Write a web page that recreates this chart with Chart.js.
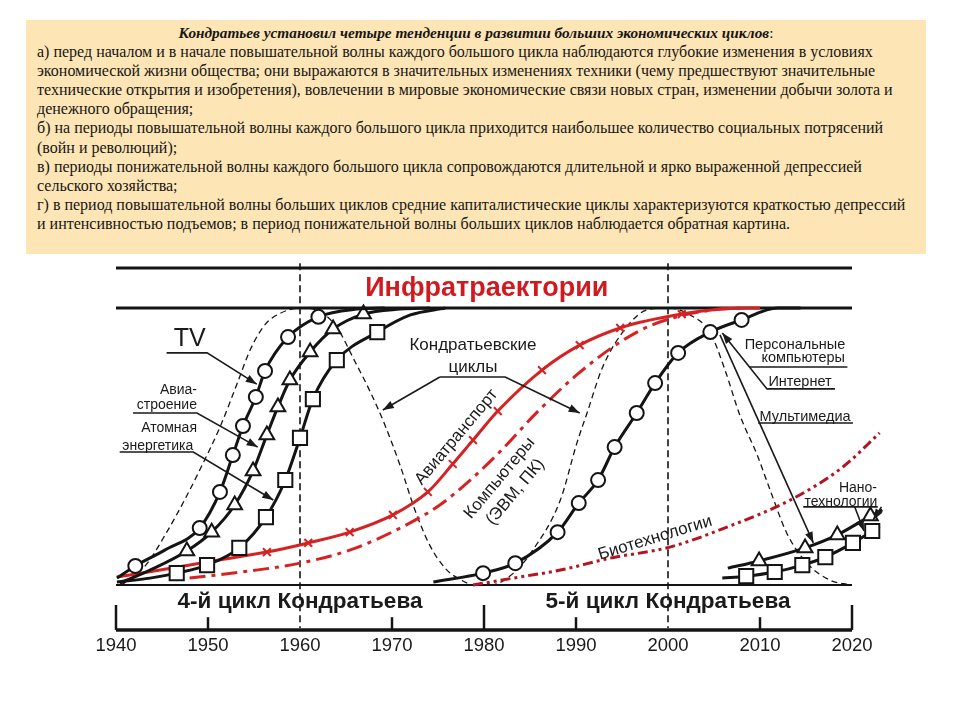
<!DOCTYPE html>
<html>
<head>
<meta charset="utf-8">
<title>Инфратраектории</title>
<script src="https://cdn.jsdelivr.net/npm/chart.js@4.4.1/dist/chart.umd.min.js"></script>
<style>
    body { margin: 0; background: #fff; }
    #wrap { position: relative; width: 960px; height: 720px; }
    #note {
        position: absolute; left: 26px; top: 20px; width: 900px; height: 234px;
        background: #fde5b5; z-index: 2; box-sizing: border-box; padding: 3px 0 0 11px;
        font-family: 'Liberation Serif', serif; font-size: 16px; color: #161616;
    }
    #note div { white-space: nowrap; line-height: 19.1px; }
    #note .title { text-align: center; font-weight: bold; font-style: italic; font-size: 15.3px; padding-right: 11px; }
    canvas { position: absolute; left: 0; top: 0; }
</style>
</head>
<body>
<div id="wrap">
    <div id="note">
        <div class="title">Кондратьев установил четыре тенденции в развитии больших экономических циклов<span style="font-weight:normal;font-style:normal">:</span></div>
        <div>а) перед началом и в начале повышательной волны каждого большого цикла наблюдаются глубокие изменения в условиях</div>
        <div>экономической жизни общества; они выражаются в значительных изменениях техники (чему предшествуют значительные</div>
        <div>технические открытия и изобретения), вовлечении в мировые экономические связи новых стран, изменении добычи золота и</div>
        <div>денежного обращения;</div>
        <div>б) на периоды повышательной волны каждого большого цикла приходится наибольшее количество социальных потрясений</div>
        <div>(войн и революций);</div>
        <div>в) периоды понижательной волны каждого большого цикла сопровождаются длительной и ярко выраженной депрессией</div>
        <div>сельского хозяйства;</div>
        <div>г) в период повышательной волны больших циклов средние капиталистические циклы характеризуются краткостью депрессий</div>
        <div>и интенсивностью подъемов; в период понижательной волны больших циклов наблюдается обратная картина.</div>
    </div>
    <canvas id="chart" width="960" height="720"></canvas>
</div>

<script>
    // x axis years, level of each trajectory (0 = start, 1 = saturation)
    var axisYears = [1940, 1950, 1960, 1970, 1980, 1990, 2000, 2010, 2020];
    var cycleLabels = ['4-й цикл Кондратьева', '5-й цикл Кондратьева'];

    // Kondratiev waves (thin dashed)
    var waveYears = [1940.6, 1943.2, 1945.5, 1947.5, 1949.1, 1951.3, 1953.2, 1954.6, 1956.2, 1957.8, 1960,
        1962.2, 1964.0, 1966.0, 1967.6, 1969.2, 1970.9, 1972.5, 1974.1, 1975.8, 1977.4, 1979.0,
        1980.7, 1983.2, 1985.3, 1988.3, 1990.1, 1991.2, 1992.9, 1995.5, 1997.7, 2000,
        2002.4, 2004.6, 2006.2, 2007.8, 2009.7, 2011.1, 2012.9, 2015.1, 2017.6, 2019.8];
    var waveLevel = [0, 0.07, 0.19, 0.31, 0.415, 0.57, 0.73, 0.85, 0.94, 0.98, 1.0,
        0.986, 0.93, 0.805, 0.70, 0.58, 0.43, 0.27, 0.144, 0.06, 0.02, 0,
        0, 0.043, 0.126, 0.307, 0.513, 0.621, 0.787, 0.931, 0.993, 1.0,
        0.975, 0.91, 0.776, 0.614, 0.469, 0.343, 0.188, 0.079, 0.018, 0];

    // TV (circles)
    var tvYears = [1940.1, 1942.1, 1945.3, 1949.1, 1951.3, 1952.7, 1953.8, 1955.2, 1956.2, 1958.7, 1962.0, 1966.2, 1969.2];
    var tvLevel = [0.025, 0.069, 0.126, 0.206, 0.336, 0.469, 0.574, 0.679, 0.773, 0.895, 0.968, 0.996, 1.0];
    var tvMarked = [0, 1, 0, 1, 1, 1, 1, 1, 1, 1, 1, 0, 0];

    // Авиастроение (triangles)
    var aircraftYears = [1940.4, 1943.7, 1947.7, 1950.4, 1952.9, 1954.9, 1956.4, 1957.6, 1958.9, 1961.1, 1963.6, 1966.9, 1970.9, 1974.1];
    var aircraftLevel = [0.007, 0.054, 0.123, 0.191, 0.289, 0.412, 0.542, 0.643, 0.74, 0.841, 0.924, 0.978, 0.996, 1.0];
    var aircraftMarked = [0, 0, 1, 1, 1, 1, 1, 1, 1, 1, 1, 1, 0, 0];

    // Атомная энергетика (squares)
    var nuclearYears = [1940.1, 1943.7, 1946.6, 1949.9, 1953.4, 1956.3, 1958.4, 1960.0, 1961.4, 1964.0, 1968.4, 1972.0, 1975.8];
    var nuclearLevel = [0.011, 0.025, 0.043, 0.072, 0.134, 0.245, 0.379, 0.531, 0.671, 0.812, 0.913, 0.975, 1.0];
    var nuclearMarked = [0, 0, 1, 1, 1, 1, 1, 1, 1, 1, 1, 0, 0];

    // Авиатранспорт (red, crosses)
    var airTransportYears = [1940.1, 1944.8, 1949.9, 1956.4, 1960.9, 1965.4, 1970.1, 1973.9, 1976.6, 1978.8, 1981.5, 1986.3, 1990.4, 1994.8, 2001.5, 2006.7, 2010.0];
    var airTransportLevel = [0.029, 0.054, 0.083, 0.119, 0.152, 0.191, 0.253, 0.336, 0.437, 0.523, 0.628, 0.776, 0.866, 0.928, 0.978, 0.998, 1.0];
    var airTransportMarked = [0, 0, 0, 1, 1, 1, 1, 1, 1, 1, 1, 1, 1, 1, 1, 0, 0];

    // Компьютеры (ЭВМ, ПК) (red dash-dot)
    var computerYears = [1948.0, 1954.6, 1960.0, 1965.4, 1970.9, 1975.2, 1978.5, 1981.7, 1985.8, 1990.2, 1994.8, 1998.0, 2001.3, 2005.7, 2008.4];
    var computerLevel = [0.025, 0.051, 0.079, 0.126, 0.206, 0.289, 0.379, 0.48, 0.625, 0.762, 0.877, 0.935, 0.971, 0.996, 1.0];

    // Персональные компьютеры / Интернет (circles)
    var pcYears = [1974.5, 1979.9, 1983.4, 1988.0, 1990.3, 1992.4, 1994.2, 1996.6, 1998.6, 2001.1, 2004.6, 2008.0, 2011.9, 2014.4];
    var pcLevel = [0.011, 0.043, 0.079, 0.191, 0.296, 0.379, 0.498, 0.621, 0.729, 0.838, 0.913, 0.957, 1.0, 1.0];
    var pcMarked = [0, 1, 1, 1, 1, 1, 1, 1, 1, 1, 1, 1, 0, 0];

    // Биотехнологии (dark red dash-dot-dot)
    var bioYears = [1978.8, 1983.9, 1988.3, 1993.7, 2000.2, 2006.4, 2013.3, 2019.0, 2023.0];
    var bioLevel = [0, 0.029, 0.054, 0.097, 0.137, 0.209, 0.307, 0.426, 0.549];

    // Нанотехнологии (triangles and squares)
    var nanoTriYears = [2006.5, 2009.9, 2014.9, 2018.4, 2022.0, 2023.3];
    var nanoTriLevel = [0.061, 0.087, 0.134, 0.181, 0.249, 0.271];
    var nanoTriMarked = [0, 1, 1, 1, 1, 0];
    var nanoSqYears = [2005.9, 2008.5, 2011.6, 2014.6, 2017.1, 2020.1, 2022.2, 2023.0];
    var nanoSqLevel = [0.025, 0.032, 0.047, 0.072, 0.101, 0.152, 0.195, 0.213];
    var nanoSqMarked = [0, 1, 1, 1, 1, 1, 1, 0];

    var INK = '#141414';
    var RED = '#d62222';
    var DARKRED = '#b3141e';

    function pts(xs, ys) {
        return xs.map(function (x, i) { return { x: x, y: ys[i] }; });
    }

    function curve(xs, ys, opts) {
        var marked = opts.marked;
        return Object.assign({
            data: pts(xs, ys),
            showLine: true,
            fill: false,
            cubicInterpolationMode: 'monotone',
            borderWidth: 3,
            borderColor: INK,
            pointBackgroundColor: '#fff',
            pointBorderColor: INK,
            pointBorderWidth: 2,
            pointRadius: function (c) { return marked && marked[c.dataIndex] ? opts.size : 0; }
        }, opts.style);
    }

    // annotation layout (in chart units: year, level)
    var texts = [
        { t: 'TV', at: [1948.0, 0.886], size: 25 },
        { t: 'Авиа-', at: [1948.8, 0.704], size: 14, align: 'right' },
        { t: 'строение', at: [1948.8, 0.650], size: 14, align: 'right' },
        { t: 'Атомная', at: [1948.8, 0.567], size: 14, align: 'right' },
        { t: 'энергетика', at: [1948.4, 0.502], size: 14, align: 'right' },
        { t: 'Кондратьевские', at: [1978.8, 0.866], size: 17 },
        { t: 'циклы', at: [1978.8, 0.787], size: 17 },
        { t: 'Инфратраектории', at: [1980.3, 1.069], size: 27, bold: true, color: '#d01a1f' },
        { t: 'Авиатранспорт', at: [1977.0, 0.534], size: 17, rot: -50 },
        { t: 'Компьютеры', at: [1981.7, 0.386], size: 17, rot: -50 },
        { t: '(ЭВМ, ПК)', at: [1983.4, 0.336], size: 17, rot: -50 },
        { t: 'Биотехнологии', at: [1998.6, 0.170], size: 17, rot: -17 },
        { t: 'Персональные', at: [2013.8, 0.866], size: 14.5 },
        { t: 'компьютеры', at: [2014.7, 0.819], size: 14.5 },
        { t: 'Интернет', at: [2014.35, 0.733], size: 14.5 },
        { t: 'Мультимедиа', at: [2014.9, 0.606], size: 14.5 },
        { t: 'Нано-', at: [2020.65, 0.350], size: 14 },
        { t: 'технологии', at: [2018.8, 0.300], size: 14 },
        { t: cycleLabels[0], at: [1960.0, -0.061], size: 22.5, bold: true },
        { t: cycleLabels[1], at: [2000.0, -0.061], size: 22.5, bold: true }
    ];
    var pointers = [
        { path: [[1945.5, 0.838], [1949.9, 0.838], [1955.3, 0.725]], head: true },
        { path: [[1941.85, 0.621], [1948.8, 0.621], [1955.4, 0.498]], head: true },
        { path: [[1940.4, 0.480], [1948.4, 0.480], [1957.1, 0.307]], head: true },
        { path: [[1975.2, 0.751], [1969.0, 0.632]], head: true },
        { path: [[1975.2, 0.751], [1982.3, 0.751], [1990.4, 0.621]], head: true },
        { path: [[2008.8, 0.787], [2019.5, 0.787]] },
        { path: [[2018.15, 0.708], [2010.76, 0.708], [2005.9, 0.91]], head: true },
        { path: [[2009.8, 0.585], [2020.1, 0.585]] },
        { path: [[2005.65, 0.903], [2015.8, 0.152]], head: true },
        { path: [[2014.7, 0.282], [2022.8, 0.282]] },
        { path: [[2020.3, 0.282], [2021.3, 0.195]], head: true },
        { path: [[2023.2, 0.282], [2022.3, 0.235]], head: true }
    ];

    var decor = {
        id: 'decor',
        beforeDatasetsDraw: function (chart) {
            var ctx = chart.ctx, x = chart.scales.x, y = chart.scales.y;
            var X = function (v) { return x.getPixelForValue(v); };
            var Y = function (v) { return y.getPixelForValue(v); };
            ctx.save();
            ctx.strokeStyle = INK;
            function hline(v, w) {
                ctx.lineWidth = w;
                ctx.beginPath();
                ctx.moveTo(X(1940), Y(v));
                ctx.lineTo(X(2020), Y(v));
                ctx.stroke();
            }
            hline(1.144, 3);
            hline(1.0, 3);
            hline(0, 2);
            hline(-0.162, 3.5);

            // decade ticks, long ones at the cycle borders
            axisYears.forEach(function (yr) {
                if (yr === 1960 || yr === 2000) return;
                var top = (yr === 1940 || yr === 1980 || yr === 2020) ? -0.072 : -0.116;
                ctx.lineWidth = 2.5;
                ctx.beginPath();
                ctx.moveTo(X(yr), Y(top));
                ctx.lineTo(X(yr), Y(-0.162));
                ctx.stroke();
            });
            // dashed cycle borders
            ctx.lineWidth = 1.6;
            ctx.setLineDash([7, 4]);
            [1960, 2000].forEach(function (yr) {
                ctx.beginPath();
                ctx.moveTo(X(yr), Y(1.162));
                ctx.lineTo(X(yr), Y(-0.155));
                ctx.stroke();
            });
            ctx.setLineDash([]);

            ctx.fillStyle = '#1a1a1a';
            ctx.font = '18.5px "Liberation Sans", Arial, sans-serif';
            ctx.textAlign = 'center';
            ctx.textBaseline = 'middle';
            axisYears.forEach(function (yr) {
                ctx.fillText(String(yr), X(yr), Y(-0.219));
            });
            ctx.restore();
        },
        afterDatasetsDraw: function (chart) {
            var ctx = chart.ctx, x = chart.scales.x, y = chart.scales.y;
            var X = function (v) { return x.getPixelForValue(v); };
            var Y = function (v) { return y.getPixelForValue(v); };
            ctx.save();
            ctx.strokeStyle = '#1a1a1a';
            ctx.fillStyle = '#1a1a1a';
            ctx.lineWidth = 1.6;
            pointers.forEach(function (p) {
                var P = p.path.map(function (q) { return [X(q[0]), Y(q[1])]; });
                ctx.beginPath();
                ctx.moveTo(P[0][0], P[0][1]);
                for (var i = 1; i < P.length; i++) ctx.lineTo(P[i][0], P[i][1]);
                ctx.stroke();
                if (p.head) {
                    var a = P[P.length - 2], b = P[P.length - 1];
                    var ang = Math.atan2(b[1] - a[1], b[0] - a[0]);
                    ctx.beginPath();
                    ctx.moveTo(b[0], b[1]);
                    ctx.lineTo(b[0] - 11 * Math.cos(ang) + 4 * Math.sin(ang), b[1] - 11 * Math.sin(ang) - 4 * Math.cos(ang));
                    ctx.lineTo(b[0] - 11 * Math.cos(ang) - 4 * Math.sin(ang), b[1] - 11 * Math.sin(ang) + 4 * Math.cos(ang));
                    ctx.closePath();
                    ctx.fill();
                }
            });
            texts.forEach(function (t) {
                ctx.save();
                ctx.translate(X(t.at[0]), Y(t.at[1]));
                if (t.rot) ctx.rotate(t.rot * Math.PI / 180);
                ctx.font = (t.bold ? 'bold ' : '') + t.size + 'px "Liberation Sans", Arial, sans-serif';
                ctx.fillStyle = t.color || '#1a1a1a';
                ctx.textAlign = t.align || 'center';
                ctx.textBaseline = 'middle';
                ctx.fillText(t.t, 0, 0);
                ctx.restore();
            });
            ctx.restore();
        }
    };

    var ctx = document.getElementById('chart').getContext('2d');
    var chart = new Chart(ctx, {
        type: 'scatter',
        data: {
            datasets: [
                curve(tvYears, tvLevel, { marked: tvMarked, size: 7, style: { pointStyle: 'circle' } }),
                curve(aircraftYears, aircraftLevel, { marked: aircraftMarked, size: 8.5, style: { pointStyle: 'triangle' } }),
                curve(nuclearYears, nuclearLevel, { marked: nuclearMarked, size: 10, style: { pointStyle: 'rect' } }),
                curve(pcYears, pcLevel, { marked: pcMarked, size: 7, style: { pointStyle: 'circle' } }),
                curve(nanoTriYears, nanoTriLevel, { marked: nanoTriMarked, size: 8.5, style: { pointStyle: 'triangle' } }),
                curve(nanoSqYears, nanoSqLevel, { marked: nanoSqMarked, size: 10, style: { pointStyle: 'rect' } }),
                curve(airTransportYears, airTransportLevel, { marked: airTransportMarked, size: 5.5,
                    style: { pointStyle: 'crossRot', borderColor: RED, pointBorderColor: RED, pointBorderWidth: 2 } }),
                curve(computerYears, computerLevel, { style: { borderColor: RED, borderDash: [16, 6, 4, 6] } }),
                curve(bioYears, bioLevel, { style: { borderColor: DARKRED, borderDash: [10, 4, 3, 4, 3, 4] } }),
                curve(waveYears, waveLevel, { style: { borderColor: INK, borderWidth: 1.3, borderDash: [6, 4] } })
            ]
        },
        options: {
            responsive: false,
            animation: false,
            layout: { padding: { left: 116, right: 62, top: 252.6, bottom: 38 } },
            plugins: { legend: { display: false }, tooltip: { enabled: false } },
            scales: {
                x: { type: 'linear', min: 1940, max: 2025, display: false },
                y: { min: -0.35, max: 1.2, display: false }
            }
        },
        plugins: [decor]
    });
</script>
</body>
</html>
